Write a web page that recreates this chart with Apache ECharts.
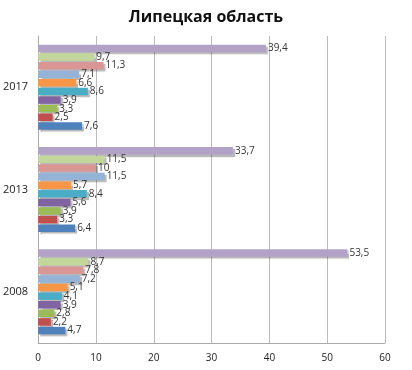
<!DOCTYPE html>
<html><head><meta charset="utf-8">
<script src="https://cdn.jsdelivr.net/npm/echarts@6/dist/echarts.min.js"></script>
<style>html,body{margin:0;padding:0;background:#fff}#c{width:412px;height:370px}</style>
</head><body><div id="c"></div>
<script>
const categories = ['2008', '2013', '2017'];
const xTicks = [0, 10, 20, 30, 40, 50, 60];
// series listed from top bar to bottom bar within each group
const s10 = [53.5, 33.7, 39.4];
const s9 = [8.7, 11.5, 9.7];
const s8 = [7.8, 10, 11.3];
const s7 = [7.2, 11.5, 7.1];
const s6 = [5.1, 5.7, 6.6];
const s5 = [4.1, 8.4, 8.6];
const s4 = [3.9, 5.6, 3.9];
const s3 = [2.8, 3.9, 3.3];
const s2 = [2.2, 3.3, 2.5];
const s1 = [4.7, 6.4, 7.6];
const seriesData = [s10, s9, s8, s7, s6, s5, s4, s3, s2, s1];
const colors = ['#B3A2C7', '#C3D69B', '#D99694', '#95B3D7', '#F79646', '#4BACC6', '#8064A2', '#9BBB59', '#C0504D', '#4F81BD'];

const font = 'Open Sans, Noto Sans, sans-serif';
const chart = echarts.init(document.getElementById('c'), null, {renderer: 'canvas'});
chart.setOption({
  animation: false,
  title: {text: 'Липецкая область', left: 'center', top: 4,
    textStyle: {fontFamily: font, fontSize: 16, fontWeight: 'bold', color: '#111'}},
  grid: {left: 37, right: 27, top: 36, bottom: 27},
  xAxis: {type: 'value', min: 0, max: 60, interval: 10,
    axisLine: {show: true, lineStyle: {color: '#aaa'}},
    axisTick: {show: false},
    splitLine: {show: true, lineStyle: {color: '#bbb'}},
    axisLabel: {fontFamily: font, fontSize: 10, color: '#222', margin: 10,
      formatter: v => xTicks.includes(v) ? String(v) : ''}},
  yAxis: {type: 'category', data: categories,
    axisLine: {show: true, lineStyle: {color: '#aaa'}},
    axisTick: {show: false},
    axisLabel: {fontFamily: font, fontSize: 11, color: '#222', margin: 10}},
  series: seriesData.map((d, i) => ({
    type: 'bar', data: d, barCategoryGap: '17%', barGap: '15%',
    itemStyle: {color: colors[i], shadowColor: 'rgba(0,0,0,0.28)', shadowOffsetX: 2, shadowOffsetY: 2, shadowBlur: 1},
    label: {show: true, position: 'right', distance: 2, fontFamily: font, fontSize: 10, color: '#333',
      formatter: p => String(p.value).replace('.', ',')}
  }))
});
</script></body></html>
